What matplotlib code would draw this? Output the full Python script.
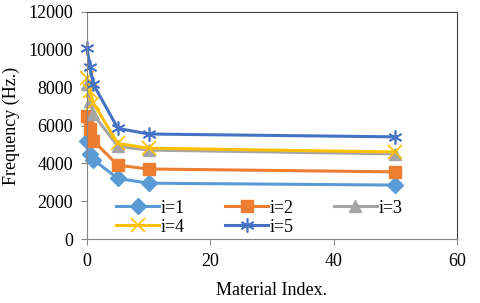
import matplotlib
matplotlib.use('Agg')
import matplotlib.pyplot as plt

plt.rcParams['font.family'] = ['Liberation Serif', 'DejaVu Serif']
plt.rcParams['font.size'] = 13

# === data ===
material_index = [0, 0.5, 1, 5, 10, 50]
freq_i1 = [5200, 4500, 4200, 3200, 2950, 2850]
freq_i2 = [6500, 5800, 5200, 3900, 3700, 3550]
freq_i3 = [8200, 7300, 6600, 4900, 4700, 4500]
freq_i4 = [8500, 7800, 7200, 5050, 4800, 4600]
freq_i5 = [10100, 9100, 8200, 5850, 5550, 5400]

labels = ['i=1', 'i=2', 'i=3', 'i=4', 'i=5']
colors = ['#5B9BD5', '#ED7D31', '#A5A5A5', '#FFC000', '#4472C4']
markers = ['D', 's', '^', 'x', (6, 2, 0)]
series = [freq_i1, freq_i2, freq_i3, freq_i4, freq_i5]

fig = plt.figure(figsize=(4.8, 3.03), dpi=100)
ax = fig.add_axes([87/480, 1 - 239/303, 370/480, 227/303])

handles = []
for y, lab, c, m in zip(series, labels, colors, markers):
    if m in ('x', (6, 2, 0)):
        h, = ax.plot(material_index, y, color=c, lw=2.2, marker=m, ms=10, mew=1.2, label=lab, clip_on=False)
    elif m == 's':
        h, = ax.plot(material_index, y, color=c, lw=2.2, marker=m, ms=9, label=lab, clip_on=False)
    else:
        h, = ax.plot(material_index, y, color=c, lw=2.2, marker=m, ms=8, label=lab, clip_on=False)
    handles.append(h)

ax.set_xlim(0, 60)
ax.set_ylim(0, 12000)
ax.set_xticks([0, 20, 40, 60])
ax.set_yticks(range(0, 12001, 2000))
ax.set_xlabel('Material Index.')
ax.set_ylabel('Frequency (Hz.)')
ax.xaxis.set_label_coords(0.5, -0.19)
ax.yaxis.set_label_coords(-0.18, 0.5)

for s in ['top', 'right']:
    ax.spines[s].set_color('#404040')
for s in ['left', 'bottom']:
    ax.spines[s].set_color('#868686')
ax.tick_params(axis='both', color='#868686', length=4, direction='out', pad=6)

# row-wise order: i=1 i=2 i=3 / i=4 i=5
order = [0, 3, 1, 4, 2]
ax.legend([handles[k] for k in order], [labels[k] for k in order],
          ncol=3, loc='lower left', bbox_to_anchor=(0.078, 0.015), frameon=False,
          handlelength=2.4, columnspacing=2.2, handletextpad=0.1, borderaxespad=0,
          borderpad=0, labelspacing=0.1, fontsize=13)

fig.savefig('out.png', dpi=100)
